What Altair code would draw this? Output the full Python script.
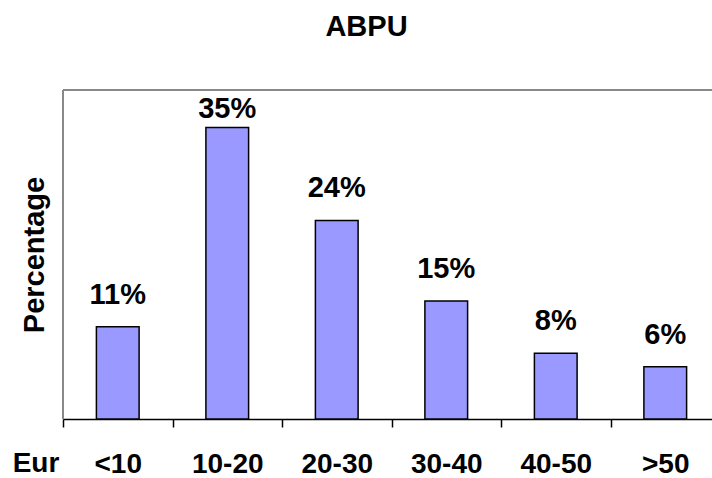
import altair as alt
import pandas as pd

categories = ["<10", "10-20", "20-30", "30-40", "40-50", ">50"]
values = [11.1, 35.1, 23.9, 14.2, 7.9, 6.3]
labels = ["11%", "35%", "24%", "15%", "8%", "6%"]

df = pd.DataFrame({"cat": categories, "value": values, "label": labels})

FONT = "Liberation Sans"
W, H = 649, 329

x_enc = alt.X(
    "cat:N",
    sort=categories,
    scale=alt.Scale(range=[0, 657], paddingInner=0, paddingOuter=0),
    axis=alt.Axis(
        title=None,
        labelAngle=0,
        labelFont=FONT,
        labelFontSize=28,
        labelFontWeight="bold",
        labelColor="black",
        labelBaseline="alphabetic",
        labelPadding=45,
        tickBand="extent",
        tickColor="black",
        tickSize=8,
        tickWidth=1.5,
        domainColor="black",
        domainWidth=1.5,
        grid=False,
    ),
)

y_scale = alt.Scale(domain=[0, 39.6], nice=False, zero=True)

base = alt.Chart(df)

bars = base.mark_bar(
    width=alt.RelativeBandSize(0.39),
    color="#9999FF",
    stroke="black",
    strokeWidth=1.5,
).encode(
    x=x_enc,
    y=alt.Y(
        "value:Q",
        scale=y_scale,
        axis=alt.Axis(
            title="Percentage",
            titleFont=FONT,
            titleFontSize=29,
            titleFontWeight="bold",
            titleColor="black",
            titlePadding=14,
            labels=False,
            ticks=False,
            domain=False,
            grid=False,
        ),
    ),
)

text = base.transform_calculate(
    ly="min(datum.value + 2.77, 36.2)"
).mark_text(
    font=FONT, fontSize=29, fontWeight="bold", color="black",
    baseline="alphabetic", align="center",
).encode(
    x=alt.X("cat:N", sort=categories),
    y=alt.Y("ly:Q", scale=y_scale),
    text="label:N",
)

blank = alt.Chart(alt.Data(values=[{"a": 1}]))

top_rule = blank.mark_rule(color="#888888", strokeWidth=2).encode(
    x=alt.value(0), x2=alt.value(700), y=alt.value(0)
)
left_rule = blank.mark_rule(color="#888888", strokeWidth=2).encode(
    x=alt.value(0), y=alt.value(0), y2=alt.value(H)
)

eur = blank.mark_text(
    font=FONT, fontSize=28, fontWeight="bold", color="black",
    baseline="alphabetic", align="center",
).encode(
    x=alt.value(-27), y=alt.value(382), text=alt.value("Eur")
)

chart = alt.layer(top_rule, left_rule, bars, text, eur).properties(
    width=W,
    height=H,
    title=alt.TitleParams(
        "ABPU",
        font=FONT,
        fontSize=29,
        fontWeight="bold",
        color="black",
        anchor="middle",
        dx=-21,
        offset=24,
        baseline="alphabetic",
    ),
    autosize=alt.AutoSizeParams(type="none"),
    padding={"left": 63, "top": 90, "right": 0, "bottom": 59},
).configure_view(stroke=None).configure(background="white")

chart.save("out.html", embed_options={"renderer": "svg", "actions": False})
